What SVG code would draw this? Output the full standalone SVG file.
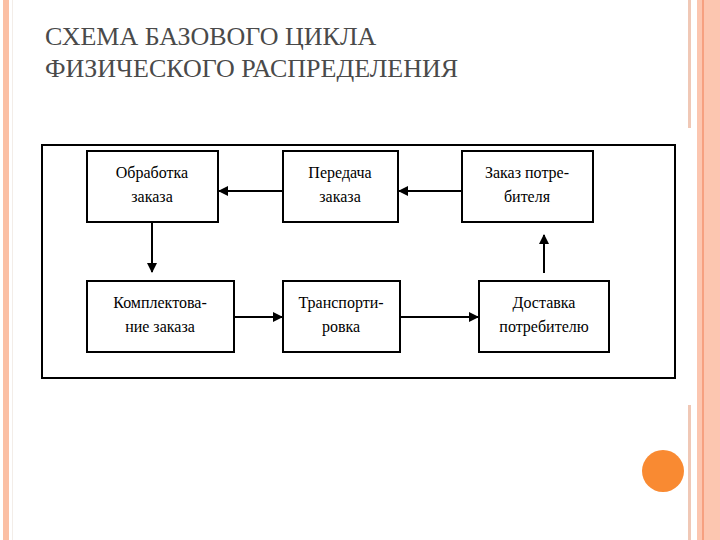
<svg xmlns="http://www.w3.org/2000/svg" width="720" height="540" viewBox="0 0 720 540">
<defs>
<style>
.b{fill:#fff;stroke:#000;stroke-width:2}
.t{font-family:'Liberation Serif','Times New Roman','DejaVu Serif',serif;font-size:16px;text-anchor:middle;fill:#000}
.h{font-family:'Liberation Serif','Times New Roman','DejaVu Serif',serif;font-size:26px;fill:#4a4a4a}
.c{stroke:#000;stroke-width:2;fill:none}
</style>
<marker id="a" markerWidth="10" markerHeight="10" refX="9" refY="5" orient="auto" markerUnits="userSpaceOnUse"><path d="M0,0 L10,5 L0,10 Z" fill="#000"/></marker>
</defs>
<rect width="720" height="540" fill="#fff"/>
<rect x="3" y="0" width="6" height="540" fill="#fbbfa4"/>
<rect x="12" y="0" width="1" height="540" fill="#f3ede8"/>
<rect x="688" y="0" width="3" height="128" fill="#f0c8b6"/>
<rect x="688" y="405" width="3" height="135" fill="#f0c8b6"/>
<rect x="697" y="0" width="23" height="540" fill="#fcc6b0"/>
<rect x="702" y="0" width="2" height="540" fill="#f6a080"/>
<circle cx="663" cy="471" r="21" fill="#f98a32"/>
<text class="h" x="45" y="45">СХЕМА БАЗОВОГО ЦИКЛА</text>
<text class="h" x="45" y="77">ФИЗИЧЕСКОГО РАСПРЕДЕЛЕНИЯ</text>
<rect x="42" y="145" width="633" height="233" fill="none" stroke="#000" stroke-width="2"/>
<g id="n1"><rect class="b" x="87" y="151" width="131" height="71"/><text class="t" x="152" y="178">Обработка</text><text class="t" x="152" y="202">заказа</text></g>
<g id="n2"><rect class="b" x="283" y="151" width="115" height="71"/><text class="t" x="340" y="178">Передача</text><text class="t" x="340" y="202">заказа</text></g>
<g id="n3"><rect class="b" x="462" y="151" width="131" height="71"/><text class="t" x="527" y="178">Заказ потре-</text><text class="t" x="527" y="202">бителя</text></g>
<g id="n4"><rect class="b" x="87" y="281" width="147" height="71"/><text class="t" x="160" y="308">Комплектова-</text><text class="t" x="160" y="332">ние заказа</text></g>
<g id="n5"><rect class="b" x="283" y="281" width="117" height="71"/><text class="t" x="341" y="308">Транспорти-</text><text class="t" x="341" y="332">ровка</text></g>
<g id="n6"><rect class="b" x="479" y="281" width="130" height="71"/><text class="t" x="544" y="308">Доставка</text><text class="t" x="544" y="332">потребителю</text></g>
<g id="connectors">
<line class="c" x1="283" y1="191" x2="219" y2="191" marker-end="url(#a)"/>
<line class="c" x1="462" y1="191" x2="399" y2="191" marker-end="url(#a)"/>
<line class="c" x1="152" y1="222" x2="152" y2="272" marker-end="url(#a)"/>
<line class="c" x1="234" y1="317" x2="282" y2="317" marker-end="url(#a)"/>
<line class="c" x1="400" y1="317" x2="478" y2="317" marker-end="url(#a)"/>
<line class="c" x1="544" y1="273" x2="544" y2="235" marker-end="url(#a)"/>
</g>
</svg>
